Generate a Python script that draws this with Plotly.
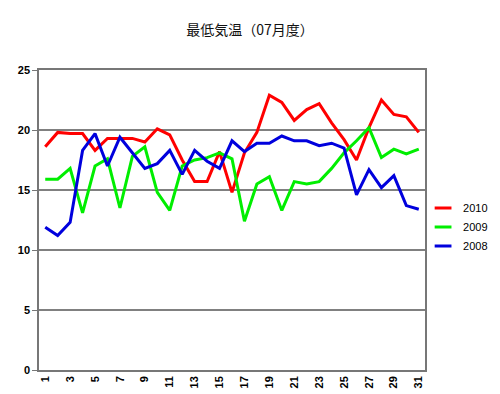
import plotly.graph_objects as go

days = list(range(1, 32))
series_names = ["2010", "2009", "2008"]
t2010 = [18.6, 19.8, 19.7, 19.7, 18.3, 19.3, 19.3, 19.3, 19.0, 20.1,
         19.6, 17.5, 15.7, 15.7, 18.2, 14.8, 18.1, 19.8, 22.9, 22.3,
         20.8, 21.7, 22.2, 20.6, 19.2, 17.5, 20.2, 22.5, 21.3, 21.1, 19.8]
t2009 = [15.9, 15.9, 16.8, 13.1, 17.0, 17.6, 13.5, 17.8, 18.6, 14.8,
         13.3, 17.0, 17.5, 17.7, 18.1, 17.6, 12.4, 15.5, 16.1, 13.3,
         15.7, 15.5, 15.7, 16.8, 18.1, 19.1, 20.2, 17.7, 18.4, 18.0, 18.4]
t2008 = [11.9, 11.2, 12.3, 18.3, 19.7, 17.0, 19.4, 18.1, 16.8, 17.2,
         18.3, 16.3, 18.3, 17.4, 16.8, 19.1, 18.2, 18.9, 18.9, 19.5,
         19.1, 19.1, 18.7, 18.9, 18.5, 14.6, 16.7, 15.2, 16.2, 13.7, 13.4]
colors = ["#ff0000", "#00ee00", "#0000dd"]
x_ticks = list(range(1, 32, 2))
y_ticks = [0, 5, 10, 15, 20, 25]
title_text = "最低気温（07月度）"

W, H = 492, 386  # page body has an 8px margin

fig = go.Figure()
for name, vals, col in zip(series_names, [t2010, t2009, t2008], colors):
    fig.add_trace(go.Scatter(x=days, y=vals, mode="lines", name=name,
                             line=dict(color=col, width=3), showlegend=False))
    # legend entry with a short line symbol
    fig.add_trace(go.Scatter(x=[None], y=[None], mode="markers", name=name,
                             marker=dict(symbol="line-ew", size=12,
                                         line=dict(color=col, width=3))))

fig.update_layout(
    width=W, height=H,
    margin=dict(l=31, r=75, t=62, b=24, autoexpand=False),
    paper_bgcolor="white", plot_bgcolor="white",
    title=dict(text=title_text, x=(250 - 8) / W, xref="container", xanchor="center",
               y=1 - 22 / H, yref="container", yanchor="middle",
               font=dict(family="Noto Sans CJK JP", size=14, color="#111111")),
    font=dict(family="Liberation Sans, Arial", size=11, color="#000000"),
    legend=dict(x=0.995, xanchor="left", y=0.477, yanchor="middle",
                font=dict(family="Liberation Sans, Arial", size=11, color="#000"),
                bgcolor="rgba(0,0,0,0)", itemwidth=30, tracegroupgap=0,
                borderwidth=0),
    showlegend=True,
)
fig.update_xaxes(range=[0.5, 31.5], tickvals=x_ticks, ticktext=[str(v) for v in x_ticks],
                 tickangle=-90, showgrid=False, zeroline=False,
                 showline=True, linecolor="#777777", linewidth=1.5, mirror=True,
                 ticks="", tickfont=dict(size=11, weight="bold"))
fig.update_yaxes(range=[0, 25], tickvals=y_ticks, showgrid=True, gridcolor="#808080",
                 gridwidth=1.5, zeroline=False,
                 showline=True, linecolor="#777777", linewidth=1.5, mirror=True,
                 ticks="outside", ticklen=5, tickcolor="#777777",
                 tickfont=dict(size=11, weight="bold"))

fig.write_html("out.html")
